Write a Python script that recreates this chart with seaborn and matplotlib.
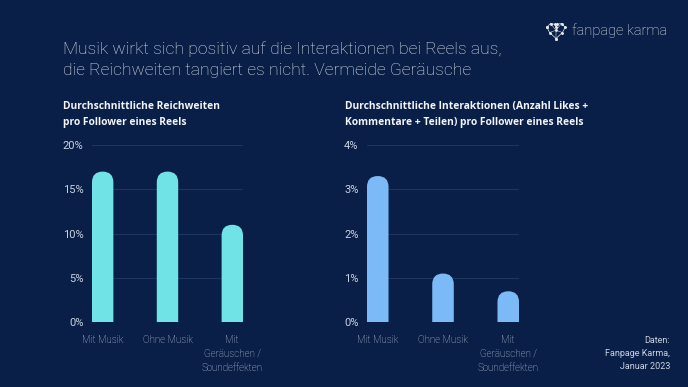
import matplotlib.pyplot as plt
from matplotlib.patches import FancyBboxPatch
from matplotlib.ticker import FuncFormatter
import seaborn as sns
import pandas as pd

categories = ['Mit Musik', 'Ohne Musik', 'Mit\nGeräuschen /\nSoundeffekten']
reichweite = [17.0, 17.0, 11.0]
interaktion = [3.3, 1.1, 0.7]

title = 'Musik wirkt sich positiv auf die Interaktionen bei Reels aus,\ndie Reichweiten tangiert es nicht. Vermeide Geräusche'
sub_left = 'Durchschnittliche Reichweiten\npro Follower eines Reels'
sub_right = 'Durchschnittliche Interaktionen (Anzahl Likes +\nKommentare + Teilen) pro Follower eines Reels'
source = 'Daten:\nFanpage Karma,\nJanuar 2023'

BG = '#0a1f47'
GRID = '#1c3460'
TXT = '#c9d2e3'
BAR_W = 0.33

sns.set_theme(style='white')
plt.rcParams['font.family'] = ['Roboto', 'DejaVu Sans']

fig = plt.figure(figsize=(6.88, 3.87), dpi=100)
fig.patch.set_facecolor(BG)


def rounded_bars(ax, df, color, ymax, step):
    sns.barplot(data=df, x='cat', y='val', ax=ax, color=color, width=BAR_W,
                saturation=1, order=categories)
    ax.set_xlim(-BAR_W / 2, len(categories) - 1 + BAR_W / 2)
    ax.set_ylim(0, ymax)
    fig.canvas.draw()
    bb = ax.get_window_extent()
    px_x = bb.width / (BAR_W + len(categories) - 1)
    px_y = bb.height / ymax
    aspect = px_x / px_y
    for p in list(ax.patches):
        x, w, h = p.get_x(), p.get_width(), p.get_height()
        r = w / 2
        ry = r * aspect
        p.set_visible(False)
        # rounded top, the rounded bottom is pushed below the axis and clipped
        ax.add_patch(FancyBboxPatch((x, -ry), w, h + ry,
                                    boxstyle=f'round,pad=0,rounding_size={r}',
                                    mutation_aspect=aspect, fc=color, ec='none',
                                    zorder=3))
    ax.set_facecolor(BG)
    ax.set_yticks([i * step for i in range(5)])
    ax.yaxis.set_major_formatter(FuncFormatter(lambda v, _: f'{v:.0f}%'))
    ax.grid(axis='y', color=GRID, lw=0.8, zorder=0)
    ax.set_axisbelow(True)
    for s in ax.spines.values():
        s.set_visible(False)
    ax.set_xlabel('')
    ax.set_ylabel('')
    ax.tick_params(axis='y', length=0, pad=6, labelsize=8, labelcolor=TXT)
    ax.tick_params(axis='x', length=0, pad=9, labelsize=7, labelcolor=TXT)
    for t in ax.get_xticklabels():
        t.set_linespacing(1.5)
        t.set_verticalalignment('top')
        t.set_fontweight('light')


ax1 = fig.add_axes([0.1337, 0.1672, 0.2195, 0.4581])
rounded_bars(ax1, pd.DataFrame({'cat': categories, 'val': reichweite}),
             '#6fe3e6', 20, 5)

ax2 = fig.add_axes([0.5334, 0.1672, 0.2210, 0.4581])
rounded_bars(ax2, pd.DataFrame({'cat': categories, 'val': interaktion}),
             '#7cbaf7', 4, 1)

fig.text(63 / 688, 1 - 41 / 387, title, color='#dde2ea', fontsize=12.6,
         fontweight='light', va='top', ha='left', linespacing=1.5)
fig.text(63 / 688, 1 - 101 / 387, sub_left, color='#f2f4f8', fontsize=7.4,
         fontweight='bold', va='top', ha='left', linespacing=1.65,
         family=['Open Sans', 'DejaVu Sans'])
fig.text(345 / 688, 1 - 101 / 387, sub_right, color='#f2f4f8', fontsize=7.4,
         fontweight='bold', va='top', ha='left', linespacing=1.65,
         family=['Open Sans', 'DejaVu Sans'])
fig.text(670 / 688, 1 - 336 / 387, source, color=TXT, fontsize=6.5,
         va='top', ha='right', linespacing=1.55)

# logo
fig.text(572 / 688, 1 - 31 / 387, 'fanpage karma', color='#e6e9ef', fontsize=10.5,
         fontweight='light', va='center', ha='left')
logo = fig.add_axes([545 / 688, 1 - 40 / 387, 22 / 688, 18 / 387])
logo.axis('off')
hx = [0.0, 0.2, 0.42, 0.5, 0.58, 0.8, 1.0, 0.85, 0.5, 0.15, 0.0]
hy = [0.75, 1.0, 0.95, 0.78, 0.95, 1.0, 0.75, 0.4, 0.0, 0.4, 0.75]
logo.plot(hx, hy, color='#e6e9ef', lw=0.5, marker='o', ms=1.1)
logo.plot([0.2, 0.5, 0.8], [1.0, 0.55, 1.0], color='#e6e9ef', lw=0.35)
logo.plot([0.15, 0.5, 0.85], [0.4, 0.55, 0.4], color='#e6e9ef', lw=0.35)
logo.plot([0.5, 0.5], [0.55, 0.0], color='#e6e9ef', lw=0.35, marker='o', ms=1.0)
logo.set_xlim(-0.1, 1.1)
logo.set_ylim(-0.1, 1.1)

fig.savefig('out.png', dpi=100, facecolor=BG)
